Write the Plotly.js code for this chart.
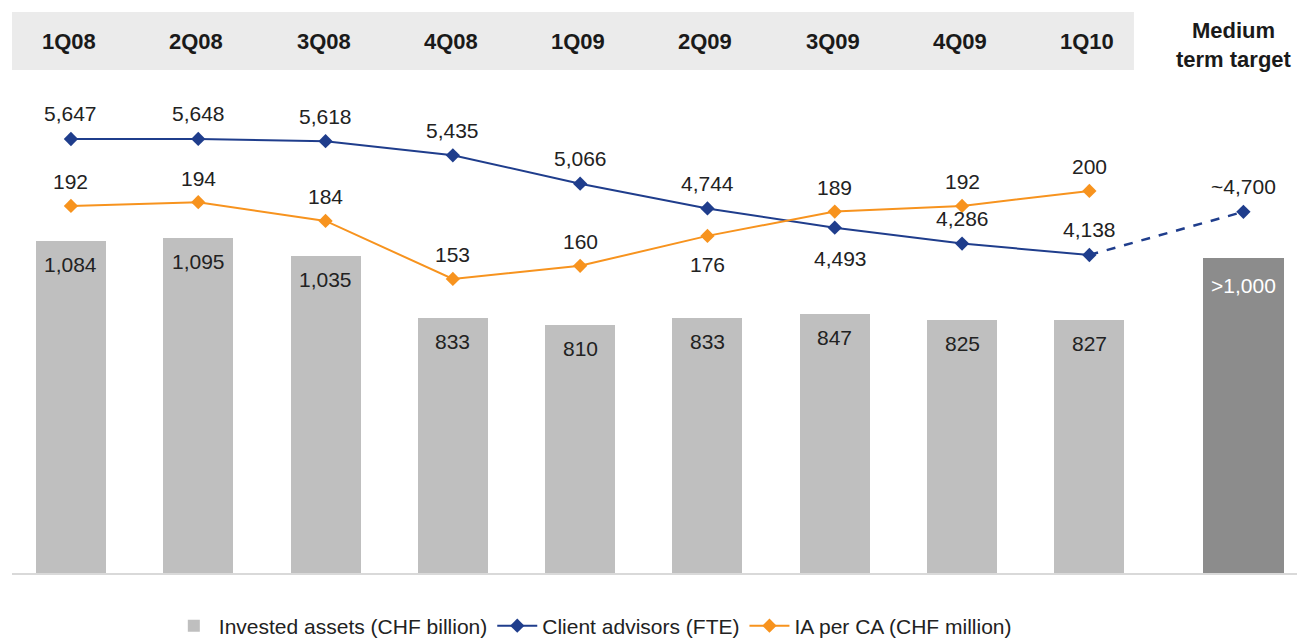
<!DOCTYPE html>
<html>
<head>
<meta charset="utf-8">
<script src="https://cdn.plot.ly/plotly-3.0.1.min.js"></script>
<style>
html,body{margin:0;padding:0;background:#fff;}
#chart{width:1297px;height:640px;}
</style>
</head>
<body>
<div id="chart"></div>
<script>
const categories = ["1Q08","2Q08","3Q08","4Q08","1Q09","2Q09","3Q09","4Q09","1Q10","Medium<br>term target"];
const investedAssets = [1084,1095,1035,833,810,833,847,825,827,1030];
const investedLabels = ["1,084","1,095","1,035","833","810","833","847","825","827",">1,000"];
const clientAdvisors = [5647,5648,5618,5435,5066,4744,4493,4286,4138];
const clientTarget = 4700;
const clientTargetLabel = "~4,700";
const iaPerCA = [192,194,184,153,160,176,189,192,200];

const FONT = "Liberation Sans, Arial, sans-serif";
const n = categories.length;
const xs = categories.map((c,i)=> i === n-1 ? i + 0.21 : i);
const fmt = v => v.toLocaleString("en-US");

const BLUE = "#1f3d8c", ORANGE = "#f7931e";
const LBL = 21;

const bars = {
  type:"bar", x: xs, y: investedAssets, name:"Invested assets (CHF billion)",
  width: xs.map((x,i)=> i===n-1 ? 0.63 : 0.55),
  marker:{color: xs.map((x,i)=> i===n-1 ? "#8c8c8c" : "#bfbfbf")},
  hoverinfo:"skip"
};

const caX = xs.slice(0, clientAdvisors.length);
const blueLine = {
  type:"scatter", mode:"lines+markers", x: caX, y: clientAdvisors, yaxis:"y2",
  name:"Client advisors (FTE)",
  line:{color:BLUE, width:2}, marker:{symbol:"diamond", size:11, color:BLUE}, hoverinfo:"skip"
};
const blueDash = {
  type:"scatter", mode:"lines", x:[caX[caX.length-1], xs[n-1]],
  y:[clientAdvisors[clientAdvisors.length-1], clientTarget], yaxis:"y2",
  showlegend:false, line:{color:BLUE, width:2.5, dash:"dash"}, hoverinfo:"skip"
};
const blueTarget = {
  type:"scatter", mode:"markers", x:[xs[n-1]], y:[clientTarget], yaxis:"y2",
  showlegend:false, marker:{symbol:"diamond", size:11, color:BLUE}, hoverinfo:"skip"
};

const iaX = xs.slice(0, iaPerCA.length);
const orangeLine = {
  type:"scatter", mode:"lines+markers", x: iaX, y: iaPerCA, yaxis:"y3",
  name:"IA per CA (CHF million)",
  line:{color:ORANGE, width:2}, marker:{symbol:"diamond", size:11, color:ORANGE}, hoverinfo:"skip"
};

// label placement: +1 above the point, -1 below
const caSide = [1,1,1,1,1,1,-1,1,1];
const iaSide = [1,1,1,1,1,-1,1,1,1];

const ann = [];
categories.forEach((c,i)=>ann.push({
  x: xs[i], y: 1-(i===n-1 ? 45 : 42)/574, xref:"x", yref:"paper", xshift: i===n-1 ? -9 : -2,
  text: "<b>"+c+"</b>", showarrow:false,
  font:{family:FONT, size:22, color:"#1a1a1a"}, xanchor:"center", yanchor:"middle"
}));
investedAssets.forEach((v,i)=>ann.push({
  x: xs[i], y: v, xref:"x", yref:"y", yanchor:"top", yshift: i===n-1 ? -14 : -10,
  text: investedLabels[i], showarrow:false,
  font:{family:FONT, size:LBL, color: i===n-1 ? "#ffffff" : "#222222"}
}));
clientAdvisors.forEach((v,i)=>ann.push({
  x: caX[i], y: v, xref:"x", yref:"y2", yanchor:"middle", yshift: caSide[i]>0 ? 25 : -31,
  xshift: caSide[i]>0 ? 0 : 6,
  text: fmt(v), showarrow:false, font:{family:FONT, size:LBL, color:"#222"}
}));
ann.push({
  x: xs[n-1], y: clientTarget, xref:"x", yref:"y2", yanchor:"middle", yshift:25,
  text: clientTargetLabel, showarrow:false, font:{family:FONT, size:LBL, color:"#222"}
});
iaPerCA.forEach((v,i)=>ann.push({
  x: iaX[i], y: v, xref:"x", yref:"y3", yanchor:"middle", yshift: iaSide[i]>0 ? 24 : -29,
  text: String(v), showarrow:false, font:{family:FONT, size:LBL, color:"#222"}
}));

const layout = {
  width:1297, height:640,
  margin:{l:12, r:0, t:0, b:66, autoexpand:false},
  paper_bgcolor:"#ffffff", plot_bgcolor:"#ffffff",
  font:{family:FONT, size:20, color:"#222"},
  showlegend:true,
  legend:{orientation:"h", x:0.452, xanchor:"center", y:-(626-574)/574, yanchor:"middle",
    font:{family:FONT, size:21, color:"#222"}, traceorder:"normal", itemwidth:40},
  xaxis:{range:[-0.463, 9.631], showgrid:false, zeroline:false, showticklabels:false,
    ticks:"", fixedrange:true},
  yaxis:{range:[0,1868], showgrid:false, zeroline:false, showticklabels:false, ticks:"",
    showline:false},
  yaxis2:{range:[-12,7455], overlaying:"y", showgrid:false, zeroline:false, showticklabels:false, ticks:""},
  yaxis3:{range:[-4.6,302], overlaying:"y", showgrid:false, zeroline:false, showticklabels:false, ticks:""},
  shapes:[
    {type:"rect", xref:"x", yref:"paper", x0:-0.463, x1:8.35, y0:1-70/574, y1:1-12/574,
      fillcolor:"#ebebeb", line:{width:0}, layer:"below"},
    {type:"line", xref:"paper", yref:"paper", x0:0, x1:1, y0:0, y1:0,
      line:{color:"#d9d9d9", width:2}}
  ],
  annotations: ann,
  bargap:0
};

Plotly.newPlot("chart", [bars, blueLine, blueDash, blueTarget, orangeLine], layout, {staticPlot:true, displayModeBar:false});
</script>
</body>
</html>
